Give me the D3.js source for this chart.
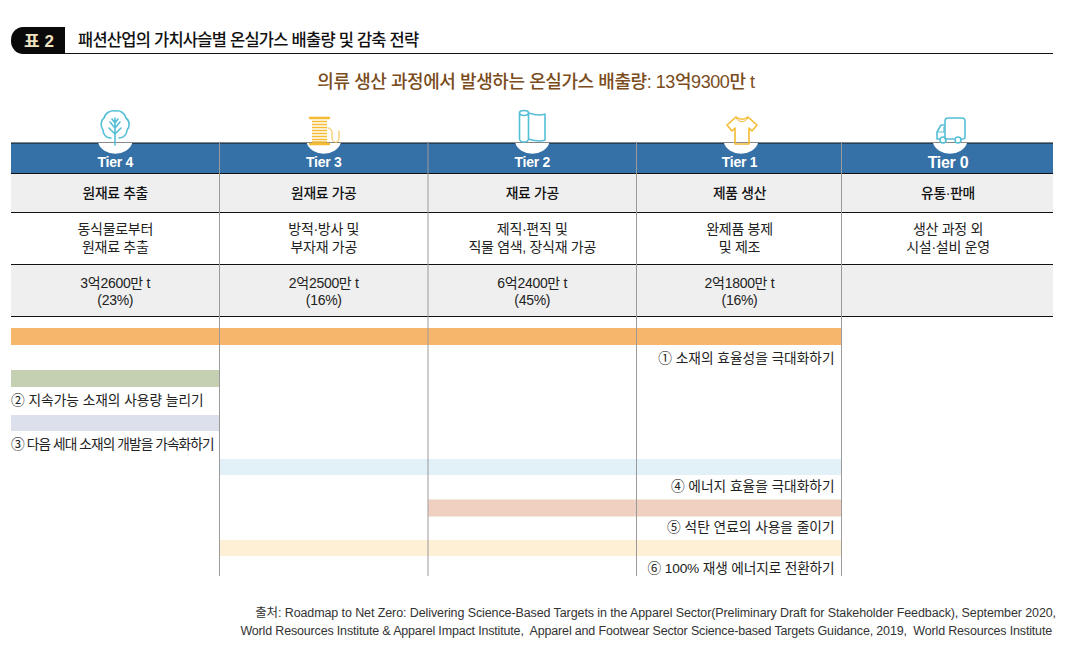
<!DOCTYPE html>
<html lang="ko"><head><meta charset="utf-8">
<script src="https://cdn.jsdelivr.net/npm/d3@7/dist/d3.min.js"></script>
<style>html,body{margin:0;padding:0;background:#fff}svg{display:block}text{font-family:"Liberation Sans","Noto Sans CJK KR",sans-serif}</style>
</head><body><svg id="c" width="1069" height="652"></svg>
<script>
const tiers=["Tier 4","Tier 3","Tier 2","Tier 1","Tier 0"];
const stages=["원재료 추출","원재료 가공","재료 가공","제품 생산","유통·판매"];
const descLine1=["동식물로부터","방적·방사 및","제직·편직 및","완제품 봉제","생산 과정 외"];
const descLine2=["원재료 추출","부자재 가공","직물 염색, 장식재 가공","및 제조","시설·설비 운영"];
const emission=["3억2600만 t","2억2500만 t","6억2400만 t","2억1800만 t",""];
const share=["(23%)","(16%)","(45%)","(16%)",""];
const strategies=["① 소재의 효율성을 극대화하기","② 지속가능 소재의 사용량 늘리기","③ 다음 세대 소재의 개발을 가속화하기","④ 에너지 효율을 극대화하기","⑤ 석탄 연료의 사용을 줄이기","⑥ 100% 재생 에너지로 전환하기"];
const barStart=[0,0,0,1,2,1];
const barEnd=[4,1,1,4,4,4];
const barColors=["#f6b76d","#c5d0b2","#dbe0ec","#e2f0f7","#f0d1c1","#fdf0d5"];
const labelSide=["end","start","start","end","end","end"];
const labelSpacing=[0,0,-0.9,0,0,-0.15];
const iconColors=["#55bfd6","#f4bb33","#55bfd6","#f4bb33","#55bfd6"];
const title="패션산업의 가치사슬별 온실가스 배출량 및 감축 전략";
const subtitle="의류 생산 과정에서 발생하는 온실가스 배출량: 13억9300만 t";
const source=["출처: Roadmap to Net Zero: Delivering Science-Based Targets in the Apparel Sector(Preliminary Draft for Stakeholder Feedback), September 2020,","World Resources Institute & Apparel Impact Institute,  Apparel and Footwear Sector Science-based Targets Guidance, 2019,  World Resources Institute"];

const svg=d3.select("#c");
const x=d3.scaleLinear().domain([0,1,2,3,4,5]).range([11,219.5,428,636.5,841.5,1053]);
const mid=i=>(x(i)+x(i+1))/2;
const barY=d3.scaleLinear().domain([0,1,2,3,4,5]).range([328,370,415,459,499.5,540]);
const barH=[17,17,16,16,17,16];
const labelY=[363,405,449,491,532,573];
const txt=(t,px,py,size,o={})=>svg.append("text").attr("x",px).attr("y",py).attr("font-size",size).attr("text-anchor",o.a||"middle").attr("fill",o.c||"#222").attr("font-weight",o.w||400).attr("letter-spacing",o.s||0).attr("xml:space","preserve").style("white-space","pre").text(t);
const cxOf=i=>i==3?739.5:(i==4?948:mid(i));

// heading
svg.append("path").attr("d","M65 27H23a12 13 0 0 0 -12 13v1a12 13 0 0 0 12 13H65Z").attr("fill","#0a0a0a");
svg.append("line").attr("x1",65).attr("x2",1053).attr("y1",53.5).attr("y2",53.5).attr("stroke","#111");
txt("표 2",39,47,17,{c:"#f0e3c0",w:700});
txt(title,78,46,16.5,{a:"start",c:"#111",w:500,s:-0.75});
txt(subtitle,536,88,18,{c:"#7a4c20",w:500,s:-0.43});

// row backgrounds
svg.append("rect").attr("x",x(0)).attr("y",143).attr("width",x(5)-x(0)).attr("height",30).attr("fill","#3570a6");
[[174,38],[265,51]].forEach(r=>svg.append("rect").attr("x",x(0)).attr("y",r[0]).attr("width",x(5)-x(0)).attr("height",r[1]).attr("fill","#efefef"));
[143,173.5,212.5,264.5,316.5].forEach(y=>svg.append("line").attr("x1",x(0)).attr("x2",x(5)).attr("y1",y).attr("y2",y).attr("stroke","#111").attr("stroke-width",1));

// bars
strategies.forEach((s,i)=>svg.append("rect").attr("x",x(barStart[i])).attr("y",barY(i)).attr("width",x(barEnd[i])-x(barStart[i])).attr("height",barH[i]).attr("fill",barColors[i]));

// column rules
[1,2,3,4].forEach(i=>svg.append("line").attr("x1",x(i)).attr("x2",x(i)).attr("y1",143).attr("y2",576).attr("stroke","#9a9a9a").attr("stroke-width",1));

// icon discs
tiers.forEach((t,i)=>{
  const cx=i==4?950:(i==3?741:mid(i));
  svg.append("path").attr("d",`M${cx-17} 143A17.5 14 0 0 0 ${cx+17} 143Z`).attr("fill","#fff");
});

// icons
const ic=(i,dx,dy)=>svg.append("g").attr("transform",`translate(${dx},${dy})`).attr("fill","none").attr("stroke",iconColors[i]).attr("stroke-width",1.6).attr("stroke-linejoin","round").attr("stroke-linecap","round");
let g=ic(0,115,125);
g.append("path").attr("d","M-4 13C-10 13-12 8-12 5C-15 1-14-5-11-7C-10-12-4-15 0-14C5-15 10-12 11-7C15-4 15 2 12 5C12 9 9 13 4 13");
g.append("path").attr("d","M0 20V-7M0 9L-6 3M0 9L6 3M0 3L-5-3M0 3L5-3M-3-6L0-2M3-6L0-2");
g=ic(1,320,131);
g.append("path").attr("stroke-width",2.4).attr("d","M-10-13H9M-10 13H9");
g.append("path").attr("stroke-width",1.5).attr("stroke-linecap","butt").attr("d","M-8-9.5H7M-8-6.5H7M-8-3.5H7M-8-.5H7M-8 2.5H7M-8 5.5H7M-8 8.5H7M-8 11H7");
g.append("path").attr("stroke-width",1).attr("d","M8-3C13-3 12 3 12 6C12 13 19 13 19 7V0");
g=ic(2,532,126);
g.append("ellipse").attr("cx",-8).attr("cy",-13).attr("rx",4.5).attr("ry",2.5);
g.append("path").attr("d","M-12.5-13V13C-12 17-4 17-3.5 13V-13M-3.5-13C3-11 8-10 13-12V14C8 16 3 15-3.5 13");
g=ic(3,742,131);
g.append("path").attr("d","M-6-14C-3-11 3-11 6-14L15-6L10 0L7-3V13H-7V-3L-10 0L-15-6Z");
g.append("path").attr("stroke-width",1).attr("d","M-6-13C-3-8 3-8 6-13");
g=ic(4,952,130);
g.append("path").attr("d","M-7 8V-9C-7-11-6-12-4-12H10C12-12 13-11 13-9V7C13 8 12 9 11 9H9M2 9H-7M-7-5H-11L-15 2V9H-12");
g.append("circle").attr("cx",-9).attr("cy",10).attr("r",3);
g.append("circle").attr("cx",6).attr("cy",10).attr("r",3);
g.append("path").attr("stroke-width",1.2).attr("d","M-14 2H-8V-3");

// table text
tiers.forEach((t,i)=>{
  const cx=cxOf(i);
  txt(t,cx,i==4?168:167,i==4?16:14,{c:"#fff",w:700,s:-0.3});
  txt(stages[i],cx,198,13.8,{c:"#111",w:500,s:-0.3});
  txt(descLine1[i],cx,234,14,{s:-0.3});
  txt(descLine2[i],cx,252,14,{s:-0.3});
  txt(emission[i],cx,288,14,{s:-0.3});
  txt(share[i],cx,305,14,{s:-0.3});
});

// strategy labels
strategies.forEach((s,i)=>{
  const a=labelSide[i];
  txt(s,a=="end"?x(barEnd[i])-7:x(barStart[i]),labelY[i],13.7,{a:a,s:labelSpacing[i]});
});

// source
txt(source[0],1056,617,12.5,{a:"end",c:"#333",s:-0.1});
txt(source[1],1052,635,12.5,{a:"end",c:"#333",s:-0.17});
</script></body></html>
